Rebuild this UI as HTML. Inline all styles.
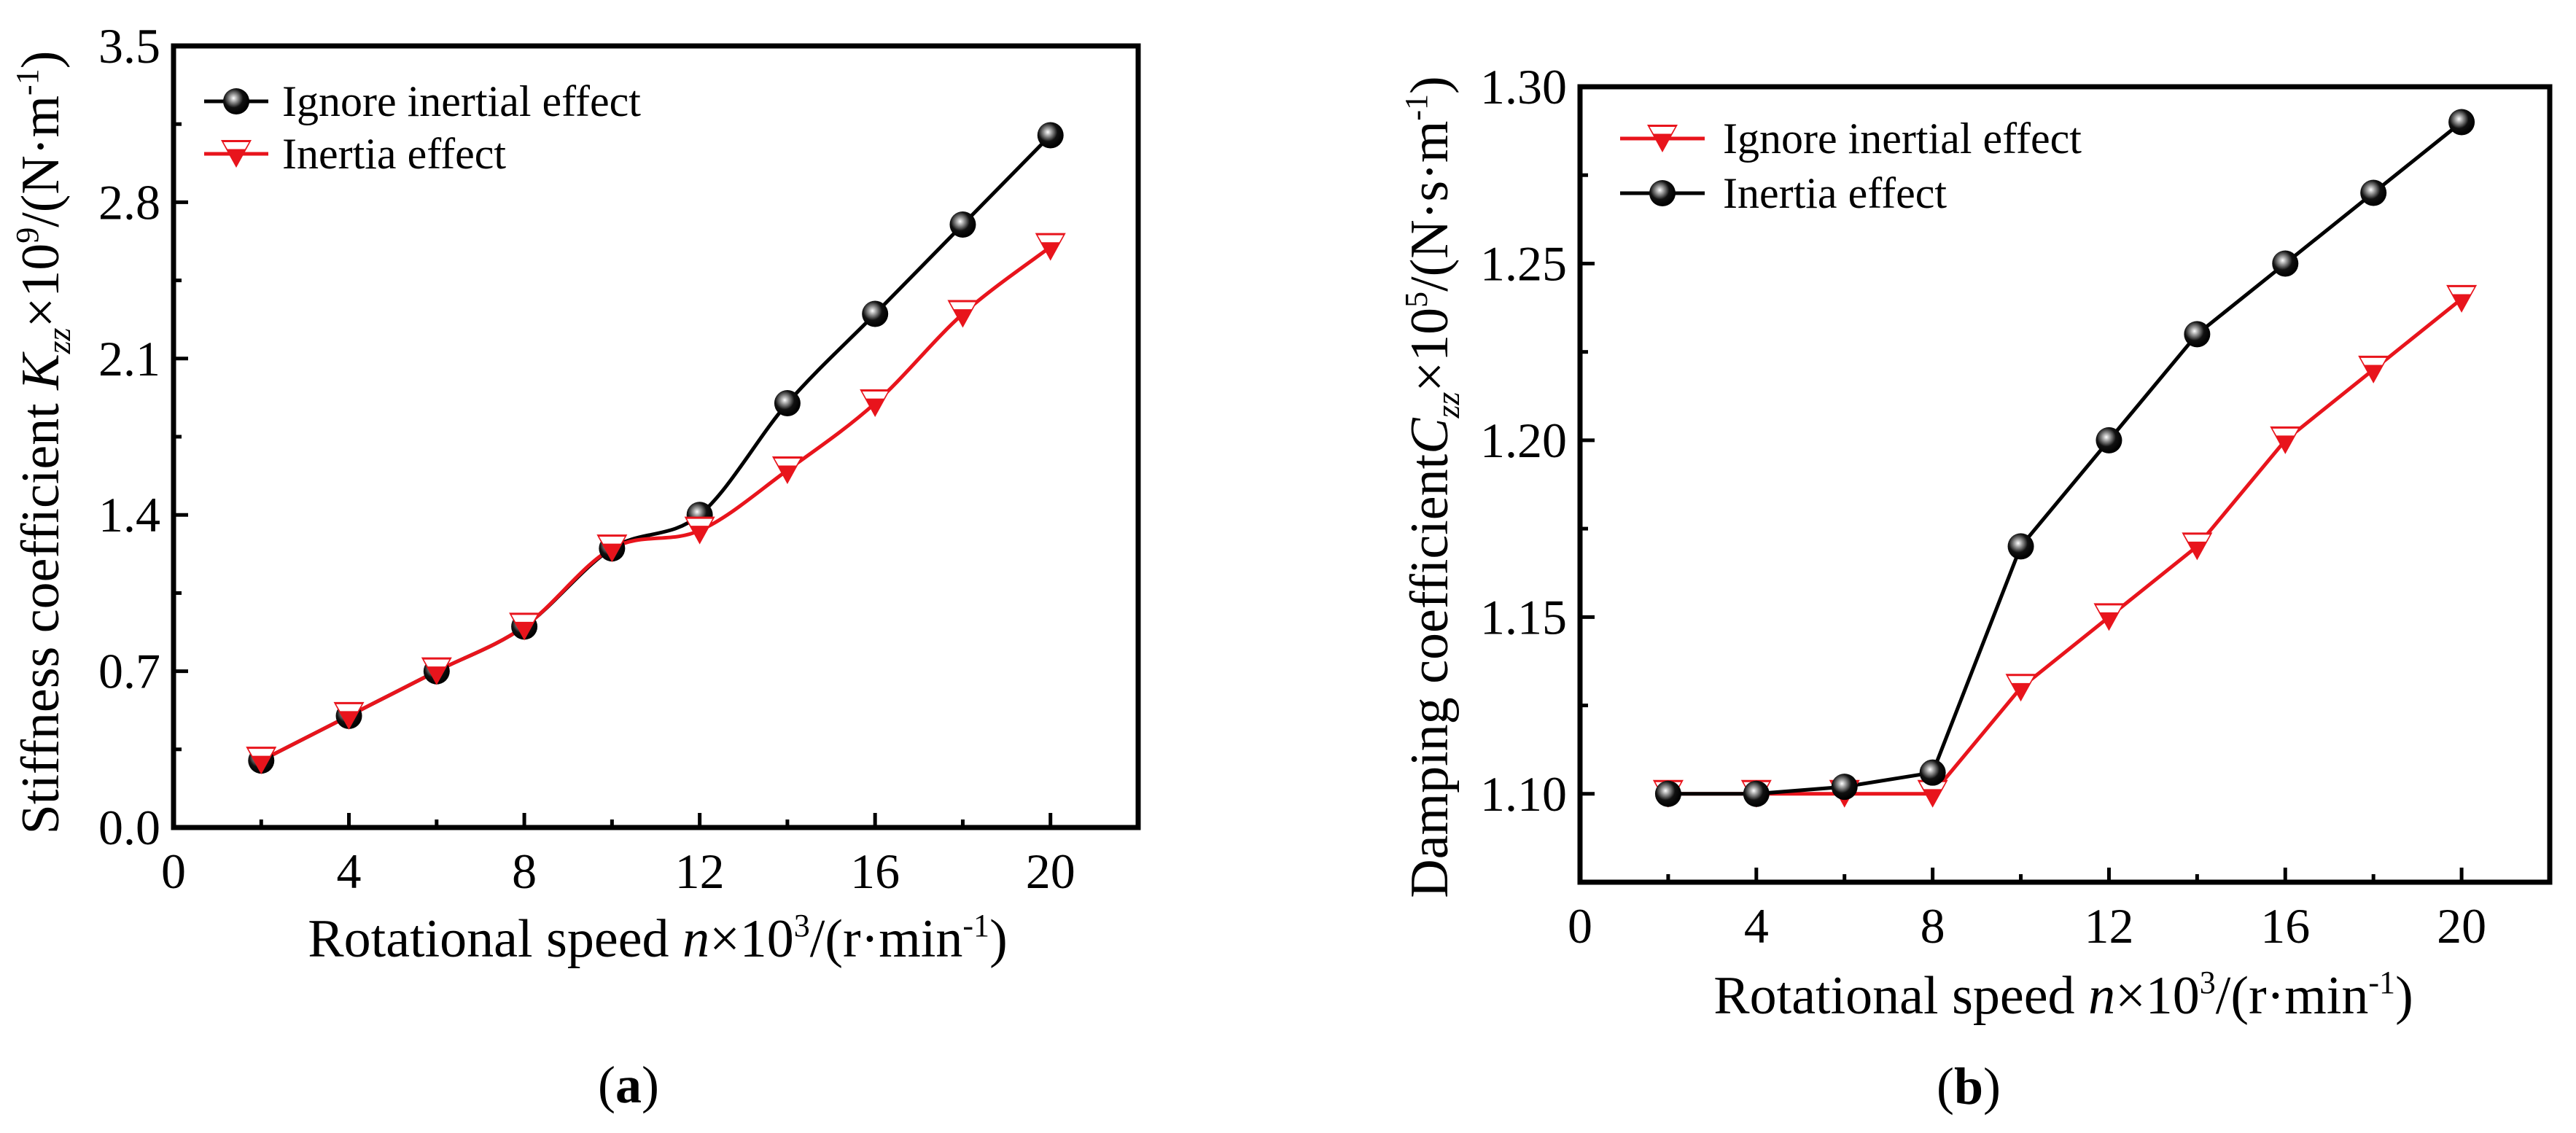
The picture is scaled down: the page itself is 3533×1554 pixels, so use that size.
<!DOCTYPE html>
<html><head><meta charset="utf-8"><style>
html,body{margin:0;padding:0;background:#fff;font-family:"Liberation Serif","Times New Roman","DejaVu Serif",serif;}
svg{display:block;}
svg text{font-family:"Liberation Serif","Times New Roman","DejaVu Serif",serif;}
</style></head><body>
<svg id="fig" width="3533" height="1554" viewBox="0 0 3533 1554" xmlns="http://www.w3.org/2000/svg" font-family="Liberation Serif, serif">
<defs>
<radialGradient id="ball" cx="0.4" cy="0.38" r="0.6">
<stop offset="0" stop-color="#ffffff"/><stop offset="0.25" stop-color="#9a9a9a"/><stop offset="0.6" stop-color="#111"/><stop offset="1" stop-color="#000"/>
</radialGradient>
</defs>
<g id="chartA"></g>
<g id="chartB"></g>
<text x="862" y="1512" font-size="72" font-family="Liberation Serif, serif" text-anchor="middle">(<tspan font-weight="bold">a</tspan>)</text>
<text x="2700" y="1514" font-size="72" font-family="Liberation Serif, serif" text-anchor="middle">(<tspan font-weight="bold">b</tspan>)</text>
<text x="902" y="1312" font-size="74" font-family="Liberation Serif, serif" text-anchor="middle">Rotational speed  <tspan font-style="italic">n</tspan>×10<tspan font-size="44" dy="-28">3</tspan><tspan dy="28">/(r·min</tspan><tspan font-size="44" dy="-28">-1</tspan><tspan dy="28">)</tspan></text>
<text transform="translate(80,607) rotate(-90)" font-size="74" font-family="Liberation Serif, serif" text-anchor="middle">Stiffness coefficient <tspan font-style="italic">K</tspan><tspan font-style="italic" font-size="46" dy="16">zz</tspan><tspan dy="-16">×10</tspan><tspan font-size="44" dy="-28">9</tspan><tspan dy="28">/(N·m</tspan><tspan font-size="44" dy="-28">-1</tspan><tspan dy="28">)</tspan></text>
<text x="2830" y="1390" font-size="74" font-family="Liberation Serif, serif" text-anchor="middle">Rotational speed <tspan font-style="italic">n</tspan>×10<tspan font-size="44" dy="-28">3</tspan><tspan dy="28">/(r·min</tspan><tspan font-size="44" dy="-28">-1</tspan><tspan dy="28">)</tspan></text>
<text transform="translate(1985,668) rotate(-90)" font-size="74" font-family="Liberation Serif, serif" text-anchor="middle">Damping coefficient<tspan font-style="italic">C</tspan><tspan font-style="italic" font-size="46" dy="16">zz</tspan><tspan dy="-16">×10</tspan><tspan font-size="44" dy="-28">5</tspan><tspan dy="28">/(N·s·m</tspan><tspan font-size="44" dy="-28">-1</tspan><tspan dy="28">)</tspan></text>
</svg>
<script>
const speeds = [2,4,6,8,10,12,14,16,18,20];
const stiffIgnore = [0.3,0.5,0.7,0.9,1.25,1.4,1.9,2.3,2.7,3.1];
const stiffInertia = [0.3,0.5,0.7,0.9,1.25,1.33,1.6,1.9,2.3,2.6];
const dampIgnore = [1.10,1.10,1.10,1.10,1.13,1.15,1.17,1.20,1.22,1.24];
const dampInertia = [1.10,1.10,1.102,1.106,1.17,1.20,1.23,1.25,1.27,1.29];
const xTicks = [0,4,8,12,16,20];
const yTicksA = ["0.0","0.7","1.4","2.1","2.8","3.5"];
const yTicksB = ["1.10","1.15","1.20","1.25","1.30"];

const NS="http://www.w3.org/2000/svg";
const FF="Liberation Serif, serif";
function mk(parent,tag,attrs,text){const e=document.createElementNS(NS,tag);for(const k in attrs)e.setAttribute(k,attrs[k]);if(tag==='text')e.setAttribute('font-family',FF);if(text!=null)e.textContent=text;parent.appendChild(e);return e;}

function ball(g,x,y){
  const c=mk(g,'circle',{cx:x,cy:y,r:18,fill:'url(#ball)'});
  
  
  return c;
}
function tri(g,x,y){
  const w=21,h=38;
  const grp=mk(g,'g',{});
  
  
  mk(grp,'polygon',{points:`${x-w},${y-h/2} ${x+w},${y-h/2} ${x},${y+h/2}`,fill:'#e8141c'});
  const t=0.33;
  mk(grp,'polygon',{points:`${x-w+3.5},${y-h/2+3} ${x+w-3.5},${y-h/2+3} ${x+w*(1-t)-2},${y-h/2+h*t} ${x-w*(1-t)+2},${y-h/2+h*t}`,fill:'#fff'});
  return grp;
}
function spline(pts){
  let d=`M${pts[0][0]},${pts[0][1]}`;
  for(let i=0;i<pts.length-1;i++){
    const p0=pts[Math.max(0,i-1)],p1=pts[i],p2=pts[i+1],p3=pts[Math.min(pts.length-1,i+2)];
    const c1=[p1[0]+(p2[0]-p0[0])/6,p1[1]+(p2[1]-p0[1])/6];
    const c2=[p2[0]-(p3[0]-p1[0])/6,p2[1]-(p3[1]-p1[1])/6];
    d+=` C${c1[0]},${c1[1]} ${c2[0]},${c2[1]} ${p2[0]},${p2[1]}`;
  }
  return d;
}
function poly(pts){return 'M'+pts.map(p=>p.join(',')).join(' L');}

function chart(cfg){
  const g=document.getElementById(cfg.id);
  const X=v=>cfg.L+(v-0)/(22-0)*(cfg.R-cfg.L);
  const Y=v=>cfg.B-(v-cfg.ymin)/(cfg.ymax-cfg.ymin)*(cfg.B-cfg.T);
  for(let v=2;v<=20;v+=2){
    const major=v%4===0;
    const t=mk(g,'line',{x1:X(v),x2:X(v),y1:cfg.B,y2:cfg.B-(major?20:11),stroke:'#000','stroke-width':5});
    
    
  }
  xTicks.forEach(v=>{
    const t=mk(g,'text',{x:X(v),y:cfg.B+83,'font-size':68,'text-anchor':'middle'},String(v));
    
    
  });
  cfg.yt.forEach((s,i)=>{
    const v=parseFloat(s),y=Y(v);
    const t=mk(g,'line',{x1:cfg.L,x2:cfg.L+20,y1:y,y2:y,stroke:'#000','stroke-width':5});
    
    
    const l=mk(g,'text',{x:cfg.L-18,y:y+23,'font-size':68,'text-anchor':'end'},s);
    
    
    const nv=v+cfg.minor;
    if(nv<cfg.ymax){
      const m=mk(g,'line',{x1:cfg.L,x2:cfg.L+11,y1:Y(nv),y2:Y(nv),stroke:'#000','stroke-width':5});
      
      
    }
  });
  const f=mk(g,'rect',{x:cfg.L,y:cfg.T,width:cfg.R-cfg.L,height:cfg.B-cfg.T,fill:'none',stroke:'#000','stroke-width':7});
  
  
  cfg.series.forEach(s=>{
    const pts=speeds.map((v,i)=>[X(v),Y(s.vals[i])]);
    const p=mk(g,'path',{d:cfg.smooth?spline(pts):poly(pts),fill:'none',stroke:s.color,'stroke-width':5});
    
    
  });
  cfg.series.forEach(s=>{
    speeds.forEach((v,i)=>{ if(s.marker==='ball')ball(g,X(v),Y(s.vals[i]));else tri(g,X(v),Y(s.vals[i])); });
  });
  cfg.series.forEach((s,i)=>{
    const y=cfg.legY+i*cfg.legDy;
    const lg=mk(g,'g',{});
    
    
    mk(lg,'line',{x1:cfg.legX,x2:cfg.legX+88+(cfg.legW||0),y1:y,y2:y,stroke:s.color,'stroke-width':5});
    const cx=cfg.legX+44+(cfg.legW||0)/2;
    if(s.marker==='ball')ball(lg,cx,y);else tri(lg,cx,y);
    mk(lg,'text',{x:cfg.legTX,y:y+20,'font-size':60},s.label);
  });
}

chart({id:'chartA',L:238,R:1561,T:63,B:1135,ymin:0,ymax:3.5,yt:yTicksA,minor:0.35,smooth:true,
  legX:280,legY:139,legDy:72,legTX:387,
  series:[{name:'ignore-inertial',vals:stiffIgnore,color:'#000',marker:'ball',label:'Ignore inertial effect'},
          {name:'inertia',vals:stiffInertia,color:'#e8141c',marker:'tri',label:'Inertia effect'}]});
chart({id:'chartB',L:2167,R:3497,T:119,B:1210,ymin:1.075,ymax:1.30,yt:yTicksB,minor:0.025,smooth:false,
  legX:2222,legY:190,legDy:75,legW:28,legTX:2363,
  series:[{name:'ignore-inertial',vals:dampIgnore,color:'#e8141c',marker:'tri',label:'Ignore inertial effect'},
          {name:'inertia',vals:dampInertia,color:'#000',marker:'ball',label:'Inertia effect'}]});
</script>
</body></html>
